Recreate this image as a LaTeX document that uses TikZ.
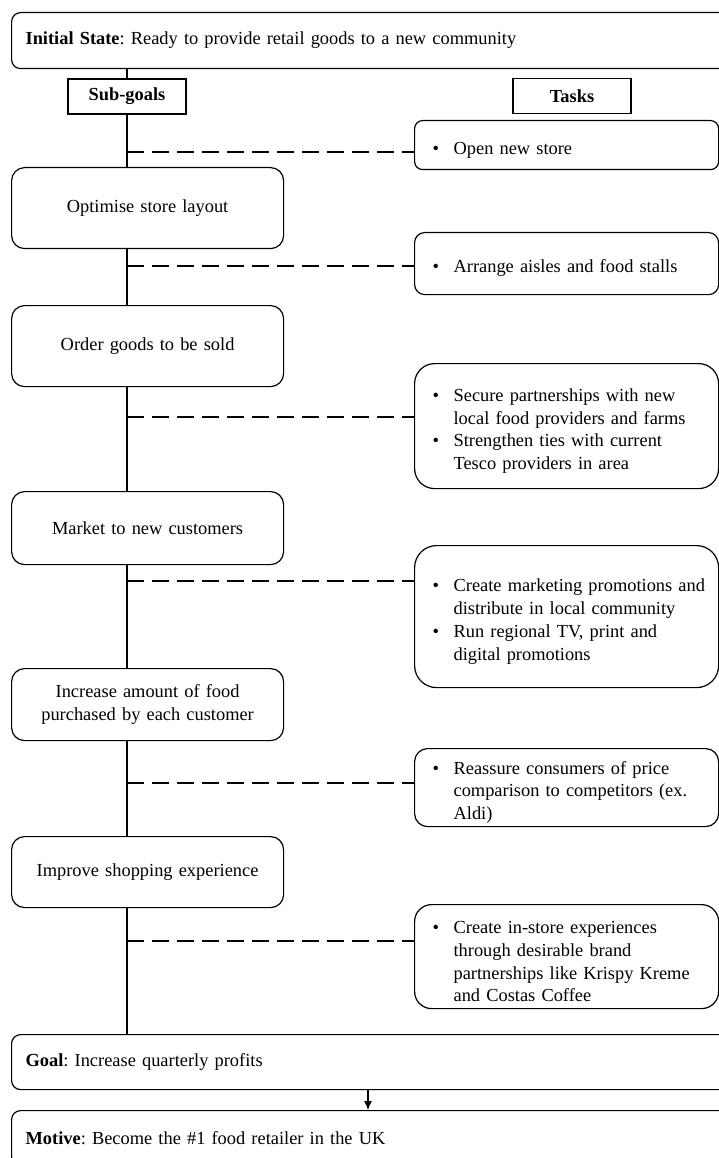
\documentclass[tikz,border=0pt]{standalone}
\usepackage{fontspec}
\setmainfont{Liberation Serif}
\usetikzlibrary{arrows.meta}
\frenchspacing
\newcommand{\taskitem}[1]{\par\noindent\hangindent=32pt\hangafter=1\hspace*{11pt}\makebox[21pt][l]{\textbullet}#1\par}

\begin{document}
\begin{tikzpicture}[x=1pt,y=-1pt,line width=1.2pt,
  every node/.style={font=\fontsize{18.4}{22.7}\selectfont, anchor=north west, inner sep=0pt},
  wide/.style={draw, rounded corners=9pt, text width=740pt, align=left, inner xsep=14pt, minimum height=#1},
  subgoal/.style={draw, rounded corners=13pt, text width=260pt, align=center, inner xsep=6pt, minimum height=#1},
  task/.style 2 args={draw, rounded corners=#2, text width=290pt, align=left, inner xsep=7pt, minimum height=#1},
  header/.style={draw, anchor=center, minimum width=118pt, minimum height=35pt},
  taskline/.style={dash pattern=on 17pt off 8pt}]
  \path[use as bounding box] (0,0) rectangle (719,1158);
  \clip (0,0) rectangle (719,1158);

  % top and column heads
  \node[wide=56pt] (init) at (11,12) {\textbf{Initial State}: Ready to provide retail goods to a new community};
  \node[header] (sgl) at (127,96.5) {\textbf{Sub-goals}};
  \node[header] (tkl) at (572,96) {\textbf{Tasks}};

  % sub-goals
  \node[subgoal=81pt] (sg1) at (11,167) {Optimise store layout};
  \node[subgoal=81pt] (sg2) at (11,305) {Order goods to be sold};
  \node[subgoal=73pt] (sg3) at (11,491) {Market to new customers};
  \node[subgoal=72pt] (sg4) at (11,668) {Increase amount of food\\purchased by each customer};
  \node[subgoal=71pt] (sg5) at (11,836) {Improve shopping experience};

  % tasks
  \node[task={49pt}{8pt}] (tk1) at (414,120) {\taskitem{Open new store}};
  \node[task={62pt}{10pt}] (tk2) at (414,232) {\taskitem{Arrange aisles and food stalls}};
  \node[task={125pt}{20pt}] (tk3) at (414,363) {\taskitem{Secure partnerships with new\newline local food providers and farms}\taskitem{Strengthen ties with current\newline Tesco providers in area}};
  \node[task={142pt}{22pt}] (tk4) at (414,545) {\taskitem{Create marketing promotions and\newline distribute in local community}\taskitem{Run regional TV, print and\newline digital promotions}};
  \node[task={78pt}{13pt}] (tk5) at (414,748) {\taskitem{Reassure consumers of price\newline comparison to competitors (ex.\newline Aldi)}};
  \node[task={104pt}{17pt}] (tk6) at (414,904) {\taskitem{Create in-store experiences\newline through desirable brand\newline partnerships like Krispy Kreme\newline and Costas Coffee}};

  % goal and motive
  \node[wide=55pt] (goal) at (11,1034) {\textbf{Goal}: Increase quarterly profits};
  \node[wide=55pt] (motive) at (11,1110) {\textbf{Motive}: Become the \#1 food retailer in the UK};

  % spine
  \draw (init.south -| sgl) -- (sgl);
  \draw (sgl) -- (sg1.north -| sgl);
  \foreach \a/\b in {sg1/sg2,sg2/sg3,sg3/sg4,sg4/sg5,sg5/goal}
    \draw (\a.south -| sgl) -- (\b.north -| sgl);

  % dashed links to tasks
  \foreach \t/\y in {tk1/152,tk2/266,tk3/417,tk4/581,tk5/783,tk6/941} {
    \coordinate (d\t) at (127,\y);
    \draw[taskline] (d\t) -- (d\t -| \t.west);
  }

  \coordinate (arr) at (368,0);
  \draw[-{Latex[length=9pt,width=8pt]}] (goal.south -| arr) -- (motive.north -| arr);
\end{tikzpicture}
\end{document}
